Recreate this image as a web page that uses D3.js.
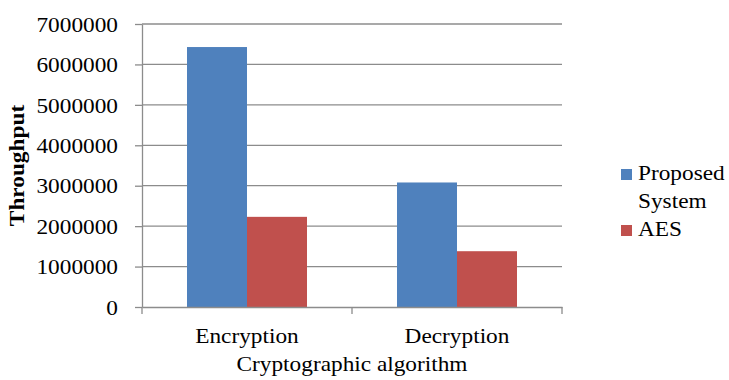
<!DOCTYPE html>
<html>
<head>
<meta charset="utf-8">
<script src="https://cdn.jsdelivr.net/npm/d3@7/dist/d3.min.js"></script>
<style>
  html, body { margin: 0; padding: 0; background: #fff; }
  svg { display: block; }
  text { font-family: "Liberation Serif", "Times New Roman", serif; fill: #000; }
</style>
</head>
<body>
<svg id="chart" width="729" height="380"></svg>
<script>
// Throughput of the two schemes for each cryptographic operation
const categories = ["Encryption", "Decryption"];
const seriesNames = ["Proposed System", "AES"];
const proposedValues = [6430000, 3080000];
const aesValues = [2230000, 1380000];
const yTickValues = [0, 1000000, 2000000, 3000000, 4000000, 5000000, 6000000, 7000000];
const seriesColors = ["#4F81BD", "#C0504D"];

const seriesValues = [proposedValues, aesValues];
const rows = categories.map((c, i) => ({
  category: c,
  values: seriesNames.map((s, j) => ({ series: s, index: j, value: seriesValues[j][i] }))
}));

const svg = d3.select("#chart");
const fontSize = 21;
const stretch = 1.11;   // Times glyphs in this figure are set slightly wide
const gridColor = "#8c8c8c";

const plot = { left: 142, right: 562, top: 24, bottom: 307 };

const x0 = d3.scaleBand()
  .domain(categories)
  .range([plot.left, plot.right])
  .paddingInner(0)
  .paddingOuter(0);

const x1 = d3.scaleBand()
  .domain(seriesNames)
  .range([0, x0.bandwidth()])
  .paddingInner(0)
  .paddingOuter(0.75);

const y = d3.scaleLinear()
  .domain([0, 7000000])
  .range([plot.bottom, plot.top]);

// horizontal gridlines
svg.append("g")
  .selectAll("line")
  .data(yTickValues.filter(v => v > 0))
  .join("line")
  .attr("x1", plot.left)
  .attr("x2", plot.right)
  .attr("y1", d => y(d))
  .attr("y2", d => y(d))
  .attr("stroke", gridColor)
  .attr("stroke-width", 1.3);

// bars
const groups = svg.append("g")
  .selectAll("g")
  .data(rows)
  .join("g")
  .attr("transform", d => `translate(${x0(d.category)},0)`);

groups.selectAll("rect")
  .data(d => d.values)
  .join("rect")
  .attr("x", d => x1(d.series))
  .attr("y", d => y(d.value))
  .attr("width", x1.bandwidth())
  .attr("height", d => y(0) - y(d.value))
  .attr("fill", d => seriesColors[d.index]);

// y axis
const yAxis = svg.append("g")
  .attr("transform", `translate(${plot.left},0)`)
  .call(d3.axisLeft(y).tickValues(yTickValues).tickFormat(d3.format("d")).tickSize(7).tickSizeOuter(0));
yAxis.select(".domain").attr("stroke", gridColor).attr("stroke-width", 1.3);
yAxis.selectAll(".tick line").attr("stroke", gridColor).attr("stroke-width", 1.3);
yAxis.selectAll(".tick text")
  .attr("x", -24 / stretch)
  .attr("dy", "0.34em")
  .attr("transform", `scale(${stretch},1)`)
  .style("font-size", fontSize + "px")
  .style("font-family", "Liberation Serif, serif");

// x axis
const xAxis = svg.append("g")
  .attr("transform", `translate(0,${plot.bottom})`)
  .call(d3.axisBottom(x0).tickSize(0).tickSizeOuter(0));
xAxis.select(".domain").attr("stroke", gridColor).attr("stroke-width", 1.3);
xAxis.selectAll(".tick text")
  .attr("y", 36)
  .attr("dy", 0)
  .attr("transform", `scale(${stretch},1)`)
  .style("font-size", fontSize + "px")
  .style("font-family", "Liberation Serif, serif");

// category boundary ticks below the axis
const boundaries = categories.map(c => x0(c)).concat([x0(categories[categories.length - 1]) + x0.bandwidth()]);
svg.append("g")
  .selectAll("line")
  .data(boundaries)
  .join("line")
  .attr("x1", d => d).attr("x2", d => d)
  .attr("y1", plot.bottom).attr("y2", plot.bottom + 7)
  .attr("stroke", gridColor)
  .attr("stroke-width", 1.3);

// axis titles
svg.append("text")
  .attr("transform", `translate(${(plot.left + plot.right) / 2},371) scale(${stretch},1)`)
  .attr("text-anchor", "middle")
  .style("font-size", fontSize + "px")
  .text("Cryptographic algorithm");

svg.append("text")
  .attr("transform", `translate(24,${(plot.top + plot.bottom) / 2}) rotate(-90) scale(${stretch},1)`)
  .attr("text-anchor", "middle")
  .style("font-size", fontSize + "px")
  .style("font-weight", "bold")
  .text("Throughput");

// legend
const legendItems = [
  { lines: ["Proposed", "System"], color: seriesColors[0], y: 169 },
  { lines: ["AES"], color: seriesColors[1], y: 225 }
];
const legend = svg.append("g");
const items = legend.selectAll("g")
  .data(legendItems)
  .join("g")
  .attr("transform", d => `translate(621,${d.y})`);
items.append("rect")
  .attr("width", 11)
  .attr("height", 11)
  .attr("fill", d => d.color);
items.each(function(d) {
  const g = d3.select(this);
  d.lines.forEach((line, i) => {
    g.append("text")
      .attr("transform", `translate(17,${11 + i * 28}) scale(${stretch},1)`)
      .style("font-size", fontSize + "px")
      .text(line);
  });
});
</script>
</body>
</html>
